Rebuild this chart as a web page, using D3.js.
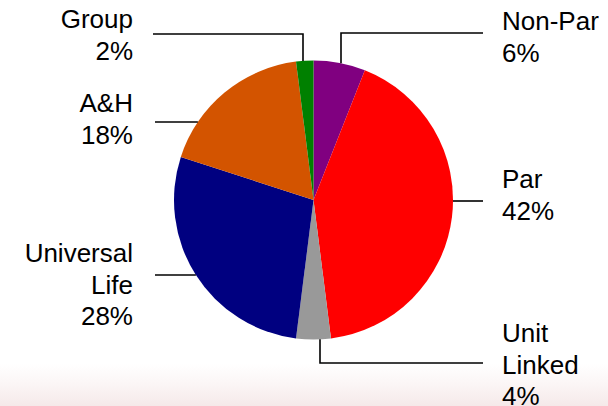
<!DOCTYPE html>
<html>
<head>
<meta charset="utf-8">
<script src="https://cdn.jsdelivr.net/npm/d3@7"></script>
<style>
  html, body { margin: 0; padding: 0; background: #fff; }
  svg { display: block; }
</style>
</head>
<body>
<svg id="chart" width="608" height="406"></svg>
<script>
// Portfolio mix by product line (share of total, %)
const categories = ["Non-Par", "Par", "Unit Linked", "Universal Life", "A&H", "Group"];
const shares     = [6, 42, 4, 28, 18, 2];
const colors     = ["#800080", "#FF0000", "#999999", "#000080", "#D35400", "#008000"];
const labelLines = [["Non-Par"], ["Par"], ["Unit", "Linked"], ["Universal", "Life"], ["A&H"], ["Group"]];

// Label placement: which side, text anchor and leader routing
const labelLayout = [
  { side: "right", x: 502, y: 30,  leader: { kind: "elbow", at: 341, turn: 33,  end: 483 } },
  { side: "right", x: 502, y: 188, leader: { kind: "flat",  at: 201, end: 483 } },
  { side: "right", x: 502, y: 342, leader: { kind: "elbow", at: 320, turn: 363, end: 483 } },
  { side: "left",  x: 133, y: 262, leader: { kind: "flat",  at: 275, end: 155 } },
  { side: "left",  x: 133, y: 112, leader: { kind: "flat",  at: 122, end: 155 } },
  { side: "left",  x: 133, y: 28,  leader: { kind: "elbow", at: 303, turn: 34,  end: 153 } }
];

const W = 608, H = 406;
const cx = 313.5, cy = 200, R = 139.5;
const fontSize = 26, lineStep = 31.7;

const svg = d3.select("#chart");

// faint warm backdrop along the bottom edge
const defs = svg.append("defs");
const grad = defs.append("linearGradient").attr("id", "floor")
  .attr("x1", 0).attr("y1", 0).attr("x2", 0).attr("y2", 1);
grad.append("stop").attr("offset", "0%").attr("stop-color", "#ffffff");
grad.append("stop").attr("offset", "50%").attr("stop-color", "#fbf5f5");
grad.append("stop").attr("offset", "100%").attr("stop-color", "#f5e9e9");
svg.append("rect").attr("width", W).attr("height", H).attr("fill", "#fff");
svg.append("rect").attr("x", 0).attr("y", 364).attr("width", W).attr("height", H - 364)
  .attr("fill", "url(#floor)");

const rows = categories.map((c, i) => ({ name: c, value: shares[i], color: colors[i], lines: labelLines[i], layout: labelLayout[i] }));

const pie = d3.pie().sort(null).value(d => d.value).startAngle(0).endAngle(2 * Math.PI);
const arc = d3.arc().innerRadius(0).outerRadius(R);

const g = svg.append("g").attr("transform", `translate(${cx},${cy})`);
g.selectAll("path.slice")
  .data(pie(rows))
  .join("path")
  .attr("class", "slice")
  .attr("d", arc)
  .attr("fill", d => d.data.color);

// leader lines: start on the rim, route out to the label
const leaders = svg.append("g").attr("fill", "none").attr("stroke", "#000").attr("stroke-width", 1.6);
rows.forEach(d => {
  const L = d.layout.leader;
  let pts;
  if (L.kind === "flat") {
    const dy = L.at - cy;
    const dx = Math.sqrt(Math.max(0, R * R - dy * dy));
    const rimX = d.layout.side === "right" ? cx + dx : cx - dx;
    pts = [[rimX, L.at], [L.end, L.at]];
  } else {
    const dx = L.at - cx;
    const dy = Math.sqrt(Math.max(0, R * R - dx * dx));
    const rimY = L.turn < cy ? cy - dy : cy + dy;
    pts = [[L.at, rimY], [L.at, L.turn], [L.end, L.turn]];
  }
  leaders.append("path").attr("d", d3.line()(pts));
});

// category labels with their percentage beneath
rows.forEach(d => {
  const t = svg.append("text")
    .attr("font-family", "'Liberation Sans', Arial, Helvetica, sans-serif")
    .attr("font-size", fontSize)
    .attr("fill", "#000")
    .attr("text-anchor", d.layout.side === "right" ? "start" : "end");
  const all = d.lines.concat([d.value + "%"]);
  all.forEach((s, k) => {
    t.append("tspan").attr("x", d.layout.x).attr("y", d.layout.y + k * lineStep).text(s);
  });
});
</script>
</body>
</html>
